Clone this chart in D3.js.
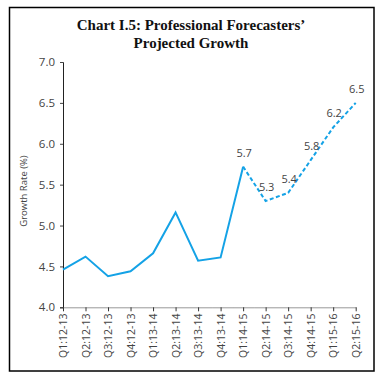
<!DOCTYPE html>
<html><head><meta charset="utf-8">
<script src="https://cdn.jsdelivr.net/npm/d3@7"></script>
<style>body{margin:0;background:#fff}</style>
</head><body>
<script>
const categories = ["Q1:12-13","Q2:12-13","Q3:12-13","Q4:12-13","Q1:13-14","Q2:13-14","Q3:13-14","Q4:13-14","Q1:14-15","Q2:14-15","Q3:14-15","Q4:14-15","Q1:15-16","Q2:15-16"];
const actualValues = [4.46,4.62,4.38,4.44,4.66,5.16,4.57,4.61,5.72];
const projectedValues = [null,null,null,null,null,null,null,null,5.72,5.3,5.4,5.8,6.2,6.5];
const projectedLabels = [null,null,null,null,null,null,null,null,"5.7","5.3","5.4","5.8","6.2","6.5"];
const yTicks = [4.0,4.5,5.0,5.5,6.0,6.5,7.0];
const titleLines = ["Chart I.5: Professional Forecasters’","Projected Growth"];
const yLabel = "Growth Rate (%)";

const W=383,H=381;
const svg=d3.select("body").append("svg").attr("width",W).attr("height",H);
svg.append("rect").attr("x",9.5).attr("y",7.5).attr("width",364.5).attr("height",363.5)
  .attr("fill","none").attr("stroke","#000").attr("stroke-width",1.5);

svg.selectAll("text.title").data(titleLines).enter().append("text")
  .attr("x",191).attr("y",(d,i)=>30+i*18).attr("text-anchor","middle")
  .attr("font-family","Liberation Serif").attr("font-weight","bold").attr("font-size",15)
  .attr("fill","#111").text(d=>d);

const x=d3.scalePoint().domain(categories).range([63,355.7]).padding(0);
const y=d3.scaleLinear().domain([4,7]).range([307.3,62]);
const color="#14a2e6";

const yAxis=svg.append("g").attr("transform","translate(63,0)")
  .call(d3.axisLeft(y).tickValues(yTicks).tickFormat(d3.format(".1f")).tickSize(3).tickPadding(5));
yAxis.select(".domain").attr("stroke","#222");
yAxis.selectAll(".tick line").attr("stroke","#444");
yAxis.selectAll("text").attr("font-family","Open Sans").attr("font-size",11.5).attr("fill","#444");

const xAxis=svg.append("g").attr("transform","translate(0,307.3)")
  .call(d3.axisBottom(x).tickSize(4).tickSizeOuter(0).tickPadding(4));
xAxis.select(".domain").attr("stroke","#333").attr("stroke-dasharray","1,1");
xAxis.selectAll(".tick line").attr("stroke","#333");
xAxis.selectAll("text").attr("font-family","Open Sans").attr("font-size",10.5).attr("fill","#444")
  .attr("transform","rotate(-90)").attr("text-anchor","end").attr("dx","-0.6em").attr("dy","0.35em")
  .attr("x",0).attr("y",0);

svg.append("text").attr("transform","translate(27,191) rotate(-90)").attr("text-anchor","middle")
  .attr("font-family","Open Sans").attr("font-size",9.5).attr("fill","#444").text(yLabel);

const line=d3.line().defined(d=>d!=null).x((d,i)=>x(categories[i])).y(d=>y(d));
svg.append("path").datum(actualValues).attr("d",line).attr("fill","none")
  .attr("stroke",color).attr("stroke-width",2).attr("stroke-linejoin","miter");
svg.append("path").datum(projectedValues).attr("d",line).attr("fill","none")
  .attr("stroke",color).attr("stroke-width",2).attr("stroke-dasharray","4,2.5");

svg.selectAll("text.lbl").data(projectedLabels.map((l,i)=>({l,i})).filter(d=>d.l)).enter().append("text")
  .attr("x",d=>x(categories[d.i])+1).attr("y",d=>y(projectedValues[d.i])-10)
  .attr("text-anchor","middle").attr("font-family","Open Sans").attr("font-size",11)
  .attr("fill","#444").text(d=>d.l);
</script>
</body></html>
